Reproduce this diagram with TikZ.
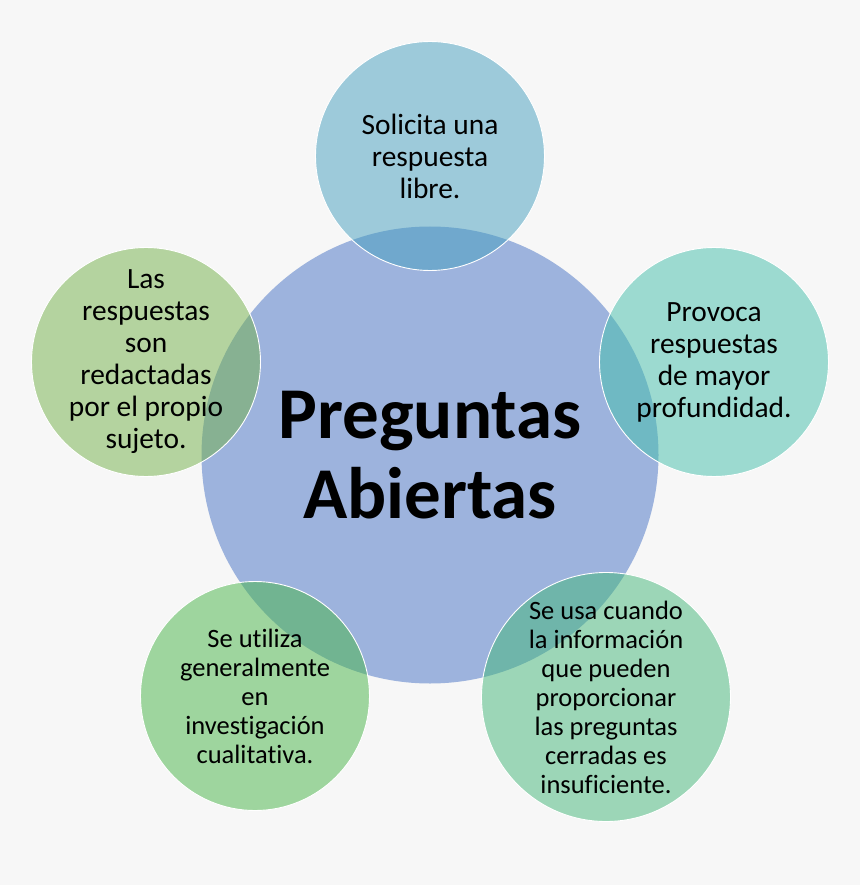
\documentclass[tikz,border=0pt]{standalone}
\usepackage{fontspec}
\setmainfont{Carlito}[Ligatures={NoCommon}]
\definecolor{bggray}{RGB}{247,247,247}
\definecolor{hubblue}{RGB}{157,179,221}
\definecolor{topblue}{RGB}{69,159,191}
\definecolor{rightteal}{RGB}{67,191,171}
\definecolor{leftgreen}{RGB}{115,177,73}
\definecolor{lowgreen}{RGB}{71,181,71}
\definecolor{lowteal}{RGB}{67,183,121}

\begin{document}
\begin{tikzpicture}[
  x=1pt, y=-1pt,
  hub/.style={circle, fill=hubblue, minimum size=457pt, inner sep=0pt},
  sat/.style={circle, draw=white, line width=0.9pt, fill opacity=0.5,
              inner sep=0pt, minimum size=229pt},
  txt/.style={align=center, text=black, inner sep=0pt,
              font=\fontsize{29.4}{32}\selectfont},
  smalltxt/.style={txt, font=\fontsize{26.5}{29}\selectfont}
]
\fill[bggray] (0,0) rectangle (860,885);
\node[hub] (hub) at (430,455) {};
\node[align=center, font=\fontsize{73}{80}\selectfont\bfseries] (title) at (hub)
  {Preguntas\\Abiertas};
% satellites
\node[sat, fill=topblue]   (stop)   at (430,156) {};
\node[sat, fill=rightteal] (sright) at (714,362) {};
\node[sat, fill=leftgreen] (sleft)  at (146,362) {};
\node[sat, fill=lowgreen]  (slow)   at (255,696) {};
\node[sat, fill=lowteal, minimum size=249pt] (slowr) at (606,697) {};
\node[txt]      (ttop)   at (stop)   {Solicita una\\respuesta\\libre.};
\node[txt]      (tright) at (sright) {Provoca\\respuestas\\de mayor\\profundidad.};
\node[txt]      (tleft)  at (sleft)  {Las\\respuestas\\son\\redactadas\\por el propio\\sujeto.};
\node[smalltxt] (tlow)   at (slow)   {Se utiliza\\generalmente\\en\\investigación\\cualitativa.};
\node[smalltxt] (tlowr)  at (slowr)  {Se usa cuando\\la información\\que pueden\\proporcionar\\las preguntas\\cerradas es\\insuficiente.};
\end{tikzpicture}
\end{document}
